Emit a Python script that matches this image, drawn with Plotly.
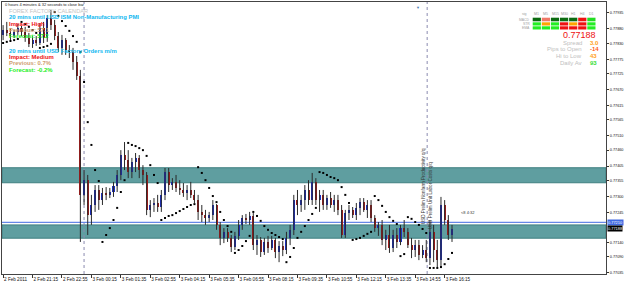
import numpy as np
import plotly.graph_objects as go

# ---------------- data (prices in 1e-5 units, one candle per 10 min) ----------
open_1e5 = [77859, 77876, 77866, 77855, 77869, 77883, 77869, 77848, 77828, 77841,
            77831, 77883, 77848, 77918, 77893, 77855, 77814, 77841, 77807, 77800,
            77765, 77717, 77305, 77356, 77235, 77270, 77322, 77287, 77311, 77305,
            77315, 77336, 77374, 77443, 77426, 77384, 77419, 77433, 77391, 77374,
            77253, 77270, 77277, 77263, 77305, 77384, 77339, 77350, 77329, 77322,
            77311, 77322, 77305, 77287, 77246, 77235, 77225, 77235, 77270, 77201,
            77156, 77177, 77156, 77125, 77163, 77201, 77225, 77218, 77232, 77131,
            77149, 77107, 77142, 77121, 77149, 77107, 77128, 77114, 77156, 77184,
            77287, 77270, 77287, 77322, 77287, 77350, 77287, 77305, 77270, 77294,
            77270, 77287, 77253, 77166, 77242, 77253, 77235, 77260, 77280, 77253,
            77270, 77225, 77190, 77201, 77149, 77166, 77121, 77166, 77142, 77190,
            77177, 77131, 77114, 77131, 77097, 77114, 77086, 77177, 77114, 77079,
            77270, 77218, 77166]
high_1e5 = [77893, 77904, 77883, 77876, 77897, 77890, 77887, 77866, 77855, 77855,
            77900, 77904, 77928, 77945, 77911, 77869, 77859, 77848, 77824, 77814,
            77786, 77738, 77391, 77374, 77305, 77339, 77339, 77329, 77332, 77329,
            77350, 77391, 77460, 77488, 77460, 77433, 77450, 77443, 77408, 77384,
            77287, 77294, 77305, 77322, 77398, 77398, 77363, 77374, 77356, 77346,
            77339, 77350, 77322, 77305, 77270, 77253, 77246, 77287, 77273, 77211,
            77190, 77190, 77166, 77177, 77218, 77235, 77239, 77246, 77242, 77166,
            77159, 77156, 77163, 77163, 77156, 77145, 77145, 77177, 77201, 77305,
            77322, 77305, 77339, 77356, 77381, 77363, 77322, 77322, 77305, 77315,
            77305, 77305, 77270, 77253, 77270, 77263, 77277, 77294, 77294, 77287,
            77287, 77235, 77211, 77218, 77184, 77201, 77184, 77190, 77201, 77218,
            77190, 77156, 77149, 77149, 77131, 77149, 77218, 77201, 77149, 77298,
            77287, 77235, 77201]
low_1e5 = [77841, 77855, 77841, 77848, 77859, 77855, 77835, 77817, 77814, 77821,
           77824, 77831, 77835, 77876, 77841, 77800, 77790, 77790, 77779, 77738,
           77703, 77142, 77270, 77166, 77201, 77246, 77253, 77270, 77287, 77294,
           77298, 77315, 77356, 77391, 77363, 77363, 77384, 77363, 77339, 77235,
           77228, 77246, 77246, 77246, 77287, 77315, 77322, 77315, 77305, 77298,
           77287, 77294, 77277, 77218, 77211, 77201, 77211, 77218, 77184, 77131,
           77138, 77142, 77107, 77114, 77149, 77184, 77204, 77201, 77114, 77097,
           77090, 77097, 77104, 77114, 77086, 77072, 77093, 77100, 77131, 77166,
           77235, 77246, 77253, 77270, 77270, 77270, 77246, 77253, 77253, 77260,
           77246, 77235, 77156, 77156, 77218, 77225, 77218, 77235, 77246, 77225,
           77211, 77177, 77163, 77131, 77114, 77104, 77107, 77121, 77131, 77159,
           77121, 77086, 77090, 77079, 77086, 77072, 77062, 77072, 77055, 77055,
           77201, 77149, 77142]
close_1e5 = [77876, 77866, 77855, 77869, 77883, 77869, 77848, 77828, 77841, 77831,
             77883, 77848, 77918, 77893, 77855, 77814, 77841, 77807, 77800, 77765,
             77717, 77305, 77356, 77235, 77270, 77322, 77287, 77311, 77305, 77315,
             77336, 77374, 77443, 77426, 77384, 77419, 77433, 77391, 77374, 77253,
             77270, 77277, 77263, 77305, 77384, 77339, 77350, 77329, 77322, 77311,
             77322, 77305, 77287, 77246, 77235, 77225, 77235, 77270, 77201, 77156,
             77177, 77156, 77125, 77163, 77201, 77225, 77218, 77232, 77131, 77149,
             77107, 77142, 77121, 77149, 77107, 77128, 77114, 77156, 77184, 77287,
             77270, 77287, 77322, 77287, 77350, 77287, 77305, 77270, 77294, 77270,
             77287, 77253, 77166, 77242, 77253, 77235, 77260, 77280, 77253, 77270,
             77225, 77190, 77201, 77149, 77166, 77121, 77166, 77142, 77190, 77177,
             77131, 77114, 77131, 77097, 77114, 77086, 77177, 77114, 77079, 77270,
             77218, 77166, 77188]
sar_1e5 = [77831, 77835, 77838, 77841, 77845, 77904, 77897, 77887, 77876, 77866,
           77814, 77817, 77821, 77828, 77938, 77925, 77907, 77890, 77873, 77855,
           77835, 77800, 77696, 77557, 77478, 77391, 77353, 77142, 77166, 77190,
           77218, 77260, 77315, 77356, 77485, 77478, 77474, 77467, 77460, 77440,
           77408, 77374, 77346, 77218, 77225, 77232, 77235, 77242, 77249, 77256,
           77263, 77270, 77273, 77401, 77381, 77356, 77329, 77301, 77280, 77246,
           77218, 77197, 77177, 77104, 77114, 77128, 77145, 77163, 77246, 77232,
           77215, 77197, 77184, 77173, 77166, 77159, 77152, 77072, 77090, 77121,
           77156, 77177, 77197, 77218, 77239, 77260, 77384, 77381, 77374, 77367,
           77363, 77356, 77332, 77305, 77277, 77149, 77152, 77156, 77163, 77170,
           77177, 77301, 77287, 77267, 77246, 77228, 77215, 77204, 77093, 77100,
           77228, 77222, 77211, 77201, 77187, 77173, 77052, 77052, 77052, 77055,
           77065, 77083, 77104]

x_tick_bars = [0, 16, 32, 48, 64, 80, 96, 112, 128, 144, 160, 176, 192, 208, 224, 240]
x_tick_labels = ["2 Feb 2011", "2 Feb 21:15", "2 Feb 22:55", "3 Feb 00:15", "3 Feb 01:35",
                 "3 Feb 02:55", "3 Feb 04:15", "3 Feb 05:35", "3 Feb 06:55", "3 Feb 08:15",
                 "3 Feb 09:35", "3 Feb 10:55", "3 Feb 12:15", "3 Feb 13:35", "3 Feb 14:55",
                 "3 Feb 16:15"]
y_tick_labels = ["0.77935", "0.77880", "0.77830", "0.77775", "0.77725", "0.77670", "0.77615",
                 "0.77565", "0.77510", "0.77460", "0.77405", "0.77355", "0.77300", "0.77245",
                 "0.77140", "0.77090", "0.77035"]

zone_upper = (0.77347, 0.77399)
zone_lower = (0.77155, 0.77201)
hline_price = 0.77210
bid_price = 0.77188
news_bars = [44, 230.5]

tf_labels = ["M1", "M5", "M15", "M30", "H1", "H4", "D1"]
row_labels = ["MACD", "STR", "EMA"]
signal_colors = [
    ["#0b6b10", "#f07868", "#0b6b10", "#0b6b10", "#0b6b10", "#ee1111", "#22dd22"],
    ["#22ee22", "#ffa500", "#22ee22", "#ee1111", "#ffa500", "#ee1111", "#22ee22"],
    ["#22ee22", "#22ee22", "#22ee22", "#ee1111", "#ee1111", "#ee1111", "#22ee22"],
]
stats = [("Spread", "3.0", "#ffa020"), ("Pips to Open", "-14", "#ff5a20"),
         ("Hi to Low", "43", "#ffa020"), ("Daily Av", "93", "#33dd33")]

# ---------------- figure ----------------
o = np.array(open_1e5) / 1e5
h = np.array(high_1e5) / 1e5
l = np.array(low_1e5) / 1e5
c = np.array(close_1e5) / 1e5
s = np.array(sar_1e5) / 1e5
bars = np.arange(len(c)) * 2  # each candle = two M5 bars

FONT = "Liberation Sans"
fig = go.Figure()

wx, wy = [], []
for b, lo, hi in zip(bars, l, h):
    wx += [b, b, None]
    wy += [lo, hi, None]
fig.add_trace(go.Scatter(x=wx, y=wy, mode="lines", line=dict(color="#2a2a2a", width=1),
                         hoverinfo="skip"))
body_col = ["#1d2fc0" if cc >= oo else "#a01c1c" for oo, cc in zip(o, c)]
fig.add_trace(go.Bar(x=bars, y=c - o, base=o, width=1.1,
                     marker=dict(color=body_col, line=dict(width=0))))
fig.add_trace(go.Scatter(x=bars, y=s, mode="markers",
                         marker=dict(color="black", size=2, symbol="square")))

PX = lambda x: (x - 2) / 604
PY = lambda y: (274 - y) / 272

shapes = []
for lo, hi in (zone_upper, zone_lower):
    shapes.append(dict(type="rect", xref="paper", yref="y", x0=0, x1=1, y0=lo, y1=hi,
                       fillcolor="#5f9ea0", line=dict(color="#3f7f80", width=1), layer="below"))
shapes.append(dict(type="line", xref="paper", yref="y", x0=0, x1=1, y0=hline_price, y1=hline_price,
                   line=dict(color="#4169e1", width=1), layer="below"))
for nb in news_bars:
    shapes.append(dict(type="line", xref="x", yref="paper", x0=nb, x1=nb, y0=0, y1=1,
                       line=dict(color="#8a8ab0", width=1, dash="dot"), layer="below"))
for r in range(3):
    y0 = [17.7, 22.3, 26.3][r]
    y1 = [21.3, 25.5, 29.5][r]
    for ci in range(7):
        x0 = 532.7 + ci * 9.1
        shapes.append(dict(type="rect", xref="paper", yref="paper", x0=PX(x0), x1=PX(x0 + 8.2),
                           y0=PY(y1), y1=PY(y0), fillcolor=signal_colors[r][ci], line=dict(width=0)))

ann = []
def txt(x, y, t, size, color, anchor="left", bold=False, **kw):
    ann.append(dict(x=PX(x), y=PY(y), xref="paper", yref="paper", text=f"<b>{t}</b>" if bold else t,
                    showarrow=False, xanchor=anchor, yanchor="middle",
                    font=dict(family=FONT, size=size, color=color), **kw))

txt(3, 4.5, "0 hours 4 minutes & 32 seconds to close bar", 4, "#222")
txt(7, 11, "FOREX FACTORY CALENDAR", 5.6, "#c4c4c4")
lines = [("20 mins until USD ISM Non-Manufacturing PMI", "#10b8f0", 17),
         ("Impact: High", "#ee1111", 23.7),
         ("Previous: 57.1", "#d0a070", 30),
         ("Forecast: 57.2", "#22ee22", 36.3),
         ("20 mins until USD Factory Orders m/m", "#10b8f0", 50.5),
         ("Impact: Medium", "#ee1111", 57),
         ("Previous: 0.7%", "#d0a070", 63.4),
         ("Forecast: -0.2%", "#22ee22", 70)]
for t, col, yy in lines:
    txt(7, yy, t, 5.9, col, bold=True)

for ci, lab in enumerate(tf_labels):
    txt(532.7 + ci * 9.1 + 4.1, 14, lab, 3.6, "#a0a0a0", anchor="center")
txt(529, 14, "sig", 3.6, "#a0a0a0", anchor="right")
for r, lab in enumerate(row_labels):
    txt(531.5, [19.5, 23.9, 27.9][r], lab, 3.4, "#a0a0a0", anchor="right")
txt(597.5, 34.5, f"{bid_price:.5f}", 9, "#ee1111", anchor="right")
for i, (lab, val, col) in enumerate(stats):
    yy = 42.7 + i * 6.7
    txt(583.5, yy, lab, 6, "#c0c0c0", anchor="right")
    txt(588, yy, val, 6, col, bold=True)

ann.append(dict(x=228.3, y=PY(226), xref="x", yref="paper", text="USD Prelim Nonfarm Productivity q/q",
                textangle=-90, showarrow=False, font=dict(family=FONT, size=4.6, color="#333")))
ann.append(dict(x=232.2, y=PY(231), xref="x", yref="paper", text="USD Prelim Unit Labor Costs q/q",
                textangle=-90, showarrow=False, font=dict(family=FONT, size=4.6, color="#333")))
ann.append(dict(x=248, y=PY(217), xref="x", yref="paper", text="<8 4:32", xanchor="left",
                showarrow=False, font=dict(family=FONT, size=4, color="#333")))
ann.append(dict(x=225.5, y=PY(3), xref="x", yref="paper", text="▼", showarrow=False,
                font=dict(family=FONT, size=4, color="#4a7ab0")))
for price, bg in ((hline_price, "#4169e1"), (bid_price, "#000000")):
    ann.append(dict(x=1, y=price, xref="paper", yref="y", text=f"{price:.5f}", xanchor="left",
                    xshift=1, showarrow=False, bgcolor=bg, borderpad=0,
                    font=dict(family=FONT, size=3.9, color="white")))

fig.update_layout(width=625, height=285, margin=dict(l=2, r=19, t=2, b=11, autoexpand=False),
                  paper_bgcolor="white", plot_bgcolor="white", showlegend=False,
                  shapes=shapes, annotations=ann, bargap=0)
fig.update_xaxes(range=[-0.6, 327.7], tickvals=x_tick_bars, ticktext=x_tick_labels,
                 tickangle=0, automargin=False,
                 ticks="outside", ticklen=3, tickcolor="#333", ticklabelposition="outside right",
                 tickfont=dict(family=FONT, size=4.6, color="#111"), showgrid=False,
                 showline=True, linecolor="#444", linewidth=1, mirror=True, zeroline=False)
fig.update_yaxes(side="right", range=[0.77031, 0.77973], automargin=False,
                 tickvals=[float(v) for v in y_tick_labels], ticktext=y_tick_labels,
                 ticks="outside", ticklen=2, tickcolor="#333",
                 tickfont=dict(family=FONT, size=3.8, color="#111"), showgrid=False,
                 showline=True, linecolor="#444", linewidth=1, mirror=True, zeroline=False)
fig.write_html("out.html")
